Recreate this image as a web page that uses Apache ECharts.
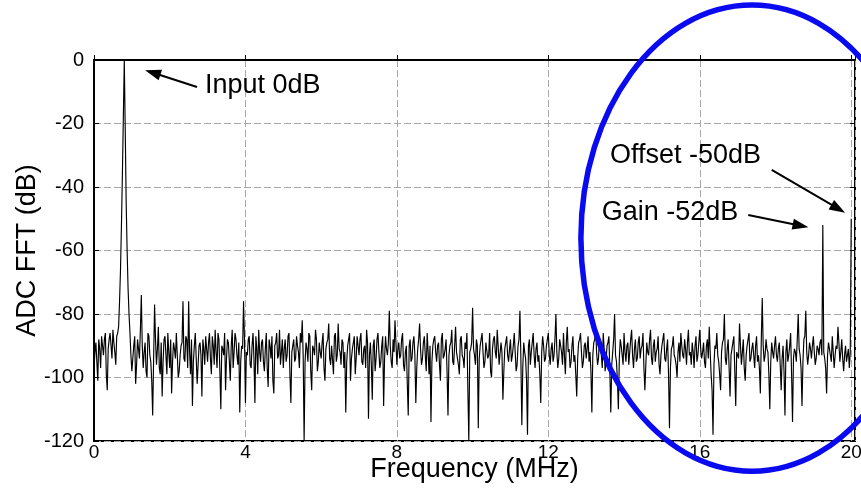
<!DOCTYPE html>
<html><head><meta charset="utf-8">
<script src="https://cdn.jsdelivr.net/npm/echarts@6/dist/echarts.min.js"></script>
<style>html,body{margin:0;padding:0;background:#fff}#c{width:861px;height:489px}</style>
</head><body><div id="c"></div>
<script>
// ---- data ----
const xTickLabels = [0, 4, 8, 12, 16, 20];
const yTickLabels = [0, -20, -40, -60, -80, -100, -120];
const freqStepMHz = 0.05; // sample spacing of the main spectrum bins (0 .. 20 MHz)
// spectrum values at bins k*0.05 MHz
const spectrumDb = [
 -97,-89,-101,-91,-87,-93,-86,-104,-88,-90,-85,-92,-87,-84,-66,-36,0,-45,-72,-86,
 -98,-90,-102,-88,-94,-74,-97,-89,-100,-87,-95,-112,-77,-96,-84,-99,-106,-88,-93,-86,
 -97,-105,-89,-94,-86,-98,-90,-76,-95,-88,-76,-99,-109,-90,-86,-96,-89,-106,-91,-87,
 -95,-86,-99,-90,-85,-97,-88,-110,-91,-86,-94,-89,-101,-85,-92,-88,-96,-111,-90,-76,
 -108,-93,-87,-97,-86,-108,-91,-85,-95,-88,-98,-86,-103,-90,-87,-105,-89,-94,-85,-92,
 -97,-88,-93,-86,-108,-90,-95,-87,-92,-86,-82,-120,-89,-95,-87,-104,-91,-85,-98,-89,
 -94,-86,-101,-89,-83,-96,-90,-87,-95,-83,-92,-88,-97,-111,-90,-86,-94,-89,-99,-87,
 -93,-86,-96,-90,-85,-113,-89,-107,-88,-94,-86,-97,-90,-109,-87,-93,-79,-95,-88,-82,
 -96,-89,-93,-86,-98,-90,-112,-88,-94,-87,-108,-91,-83,-96,-89,-93,-86,-99,-114,-90,
 -87,-95,-89,-101,-86,-93,-88,-112,-90,-85,-96,-84,-92,-99,-87,-94,-89,-86,-120,-91,
 -78,-93,-88,-116,-90,-86,-97,-89,-94,-86,-100,-88,-92,-85,-96,-89,-107,-91,-87,-95,
 -88,-93,-86,-98,-90,-79,-115,-89,-94,-118,-88,-92,-86,-97,-89,-93,-108,-87,-95,-90,
 -86,-96,-89,-93,-80,-97,-88,-92,-86,-99,-84,-91,-95,-87,-93,-106,-89,-86,-97,-90,
 -94,-87,-92,-111,-89,-85,-96,-88,-93,-86,-98,-90,-87,-111,-92,-80,-95,-110,-88,-93,
 -86,-95,-89,-92,-85,-97,-88,-94,-87,-91,-86,-104,-89,-93,-85,-96,-88,-92,-87,-99,
 -90,-86,-95,-88,-116,-91,-87,-94,-100,-89,-86,-93,-88,-96,-85,-92,-89,-97,-87,-93,
 -85,-94,-89,-97,-88,-84,-99,-118,-90,-86,-95,-104,-89,-80,-96,-88,-106,-91,-87,-109,
 -92,-83,-96,-88,-101,-90,-86,-94,-89,-97,-87,-93,-105,-75,-95,-88,-92,-110,-89,-94,
 -87,-95,-89,-104,-90,-112,-88,-93,-86,-114,-91,-95,-80,-93,-109,-88,-79,-96,-89,-94,
 -87,-96,-90,-93,-88,-52,-94,-105,-89,-93,-87,-97,-90,-84,-95,-88,-98,-90,-93,-97,
 -50
];
// spectrum values at the in-between bins (k+0.5)*0.05 MHz
const spectrumMidDb = [
 -92,-95,-88,-97,-90,-88,-99,-91,-86,-94,-89,-96,-86,-76,-52,-18,-22,-60,-80,-93,
 -94,-87,-96,-91,-85,-90,-92,-98,-86,-93,-101,-94,-88,-91,-97,-89,-95,-87,-99,-92,
 -88,-95,-91,-86,-100,-93,-89,-94,-87,-97,-92,-88,-95,-86,-102,-90,-93,-88,-96,-91,
 -89,-94,-87,-96,-92,-86,-98,-90,-93,-104,-88,-95,-90,-97,-86,-93,-89,-95,-91,-88,
 -92,-88,-96,-90,-94,-87,-99,-92,-89,-95,-91,-97,-88,-94,-101,-90,-86,-93,-96,-88,
 -91,-95,-87,-99,-92,-88,-94,-90,-97,-89,-93,-95,-91,-86,-98,-90,-93,-88,-95,-92,
 -89,-97,-91,-88,-94,-90,-99,-86,-93,-91,-96,-89,-92,-95,-88,-101,-91,-87,-94,-90,
 -88,-95,-91,-97,-89,-93,-96,-90,-98,-88,-92,-95,-87,-94,-91,-89,-90,-97,-92,-89,
 -91,-94,-88,-96,-92,-102,-90,-95,-89,-93,-97,-88,-91,-94,-87,-98,-92,-90,-95,-88,
 -92,-90,-96,-88,-94,-91,-98,-93,-89,-95,-90,-92,-96,-88,-93,-97,-91,-104,-92,-89,
 -91,-96,-90,-94,-88,-92,-95,-89,-93,-98,-91,-87,-94,-90,-96,-92,-98,-89,-93,-91,
 -95,-90,-92,-96,-88,-94,-97,-92,-101,-90,-96,-89,-93,-91,-95,-99,-92,-90,-94,-88,
 -93,-91,-95,-88,-92,-94,-90,-96,-93,-89,-92,-97,-90,-95,-99,-94,-88,-92,-95,-89,
 -91,-95,-98,-93,-88,-92,-94,-90,-97,-91,-95,-89,-98,-96,-88,-93,-101,-94,-90,-96,
 -92,-90,-96,-88,-93,-91,-95,-89,-94,-90,-97,-96,-92,-88,-94,-90,-95,-91,-96,-93,
 -88,-94,-91,-99,-97,-90,-93,-96,-92,-95,-90,-94,-91,-89,-93,-96,-92,-90,-95,-89,
 -91,-92,-95,-90,-94,-92,-104,-96,-91,-93,-99,-92,-88,-94,-91,-97,-93,-89,-98,-92,
 -94,-90,-92,-97,-93,-88,-95,-91,-93,-90,-95,-97,-88,-90,-93,-91,-99,-95,-92,-90,
 -93,-91,-96,-94,-98,-92,-95,-90,-99,-94,-92,-88,-91,-97,-95,-87,-92,-93,-91,-90,
 -92,-94,-91,-89,-93,-92,-97,-93,-91,-95,-92,-93,-91,-89,-92,-94,-93,-95,-91,-92
];
// annotations in data units [MHz, dB]
const annoTexts   = ['Input 0dB', 'Offset -50dB', 'Gain -52dB'];
const annoTextPos = [[2.93, -7.9], [13.63, -30.2], [13.41, -48.0]];
const arrowTails  = [[2.72, -8.5], [17.90, -34.6], [17.28, -48.8]];
const arrowTips   = [[1.35, -3.2], [19.84, -48.1], [18.87, -52.7]];
const ellipseCenter = [17.38, -56.1];
const ellipseRadii  = [4.52, 73.4];

const seriesData = [];
for (let i = 0; i < spectrumDb.length; i++) {
  seriesData.push([+(i * freqStepMHz).toFixed(4), spectrumDb[i]]);
  if (i < spectrumMidDb.length) seriesData.push([+((i + 0.5) * freqStepMHz).toFixed(4), spectrumMidDb[i]]);
}
const FONT = '"Liberation Sans", Arial, Helvetica, sans-serif';

const chart = echarts.init(document.getElementById('c'), null, {renderer: 'canvas'});
const option = {
  animation: false,
  backgroundColor: '#fff',
  grid: {left: 94, top: 60, right: 6, bottom: 48, containLabel: false, outerBoundsMode: 'none',
         show: true, borderColor: '#000', borderWidth: 2, backgroundColor: 'transparent'},
  xAxis: {
    type: 'value', min: 0, max: 20.1, interval: 4,
    name: 'Frequency (MHz)', nameLocation: 'middle', nameGap: 15, nameMoveOverlap: false,
    nameTextStyle: {fontFamily: FONT, fontSize: 27, color: '#000', verticalAlign: 'top'},
    axisLine: {show: true, lineStyle: {color: '#000', width: 2}},
    axisTick: {show: true, inside: true, length: 5, lineStyle: {color: '#000'}},
    axisLabel: {fontFamily: FONT, fontSize: 19, color: '#000', margin: 2,
      formatter: v => (xTickLabels.indexOf(Math.round(v * 1000) / 1000) >= 0 ? String(v) : '')},
    splitLine: {show: true, lineStyle: {color: '#a8a8a8', width: 1, type: [7, 3]}}
  },
  yAxis: [{
    type: 'value', min: -120, max: 0, interval: 20,
    name: 'ADC FFT (dB)', nameLocation: 'middle', nameGap: 53, nameRotate: 90, nameMoveOverlap: false,
    nameTextStyle: {fontFamily: FONT, fontSize: 27, color: '#000'},
    axisLine: {show: true, lineStyle: {color: '#000', width: 2}},
    axisTick: {show: true, inside: true, length: 5, lineStyle: {color: '#000'}},
    axisLabel: {fontFamily: FONT, fontSize: 20, color: '#000', margin: 10,
      formatter: v => (yTickLabels.indexOf(v) >= 0 ? String(v) : '')},
    splitLine: {show: true, lineStyle: {color: '#a8a8a8', width: 1, type: [7, 3]}}
  }, {
    type: 'value', min: -120, max: 0, interval: 20, position: 'right',
    axisLine: {show: false}, axisLabel: {show: false}, splitLine: {show: false},
    axisTick: {show: true, inside: true, length: 5, lineStyle: {color: '#000'}}
  }],
  series: [{
    type: 'line', data: seriesData, showSymbol: false, symbol: 'none',
    lineStyle: {color: '#000', width: 1.15}, z: 3
  }]
};
chart.setOption(option);

function px(p) { return chart.convertToPixel({seriesIndex: 0}, p); }
const elements = [];
for (let k = 0; k < annoTexts.length; k++) {
  const a = px(arrowTails[k]), b = px(arrowTips[k]);
  const dx = b[0] - a[0], dy = b[1] - a[1], L = Math.hypot(dx, dy), ux = dx / L, uy = dy / L;
  const hl = 16, hw = 5.5;
  const base = [b[0] - ux * hl, b[1] - uy * hl];
  elements.push({type: 'line', z: 10, shape: {x1: a[0], y1: a[1], x2: base[0] + ux * 2, y2: base[1] + uy * 2}, style: {stroke: '#000', lineWidth: 2}});
  elements.push({type: 'polygon', z: 10, shape: {points: [b, [base[0] - uy * hw, base[1] + ux * hw], [base[0] + uy * hw, base[1] - ux * hw]]}, style: {fill: '#000'}});
  const t = px(annoTextPos[k]);
  elements.push({type: 'text', z: 10, x: t[0], y: t[1], style: {text: annoTexts[k], fontFamily: FONT, fontSize: 27, fill: '#000', align: 'left', verticalAlign: 'middle'}});
}
const c = px(ellipseCenter);
const e = px([ellipseCenter[0] + ellipseRadii[0], ellipseCenter[1] + ellipseRadii[1]]);
elements.push({type: 'ellipse', z: 20, shape: {cx: c[0], cy: c[1], rx: Math.abs(e[0] - c[0]), ry: Math.abs(e[1] - c[1])}, style: {fill: 'none', stroke: '#0a0af0', lineWidth: 5.5}});
chart.setOption({graphic: {elements: elements}});
</script>
</body></html>
